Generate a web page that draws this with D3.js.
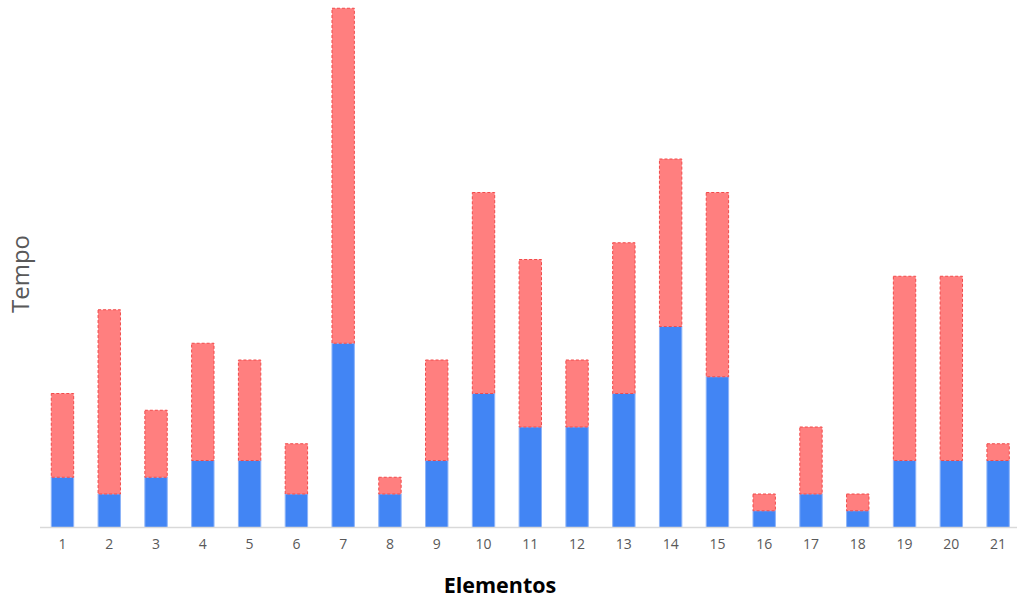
<!DOCTYPE html>
<html><head><meta charset="utf-8">
<script src="https://cdn.jsdelivr.net/npm/d3@7/dist/d3.min.js"></script>
<style>body{margin:0;background:#fff;} svg{display:block;}</style>
</head><body>
<svg id="chart" width="1017" height="598"></svg>
<script>
const categories = ["1","2","3","4","5","6","7","8","9","10","11","12","13","14","15","16","17","18","19","20","21"];
const blueValues = [3,2,3,4,4,2,11,2,4,8,6,6,8,12,9,1,2,1,4,4,4];
const redValues  = [5,11,4,7,6,3,20,1,6,12,10,4,9,10,11,1,4,1,11,11,1];
const yMax = 31;
const xTitle = "Elementos";
const yTitle = "Tempo";

const svg = d3.select("#chart");
const x = d3.scaleBand().domain(categories).range([39.1, 1021.5]).paddingInner(0.5).paddingOuter(0.25);
const y = d3.scaleLinear().domain([0, yMax]).range([527.5, 8.25]);

const data = categories.map((c,i)=>({c, b: blueValues[i], r: redValues[i]}));

// blue
svg.append("g").selectAll("rect").data(data).join("rect")
  .attr("x", d=>x(d.c)+0.5).attr("width", x.bandwidth()-1)
  .attr("y", d=>y(d.b)).attr("height", d=>y(0)-y(d.b))
  .attr("fill", "#4285f4").attr("stroke", "#8db4f8").attr("stroke-width", 1);
// red
svg.append("g").selectAll("rect").data(data).join("rect")
  .attr("x", d=>x(d.c)+0.5).attr("width", x.bandwidth()-1)
  .attr("y", d=>y(d.b+d.r)).attr("height", d=>y(d.b)-y(d.b+d.r))
  .attr("fill", "#ff7f7f").attr("stroke", "#f24a4a").attr("stroke-width", 1).attr("stroke-dasharray", "3,2");

// axis
const ax = svg.append("g").attr("transform", "translate(0,527.5)")
  .call(d3.axisBottom(x).tickSize(0).tickPadding(12));
ax.select(".domain").remove();
ax.append("line").attr("x1", 40).attr("x2", 1017).attr("y1", 0).attr("y2", 0)
  .attr("stroke", "#d9d9d9").attr("stroke-width", 1.5);
ax.selectAll("text").attr("font-family", "Open Sans, sans-serif").attr("font-size", 14).attr("fill", "#595959");

svg.append("text").attr("x", 500).attr("y", 593).attr("text-anchor", "middle")
  .attr("font-family", "Open Sans, sans-serif").attr("font-weight", "bold").attr("font-size", 21.5)
  .attr("fill", "#000").text(xTitle);
svg.append("text").attr("transform", "translate(29,274) rotate(-90)").attr("text-anchor", "middle")
  .attr("font-family", "Open Sans, sans-serif").attr("font-size", 24)
  .attr("fill", "#595959").text(yTitle);
</script>
</body></html>
